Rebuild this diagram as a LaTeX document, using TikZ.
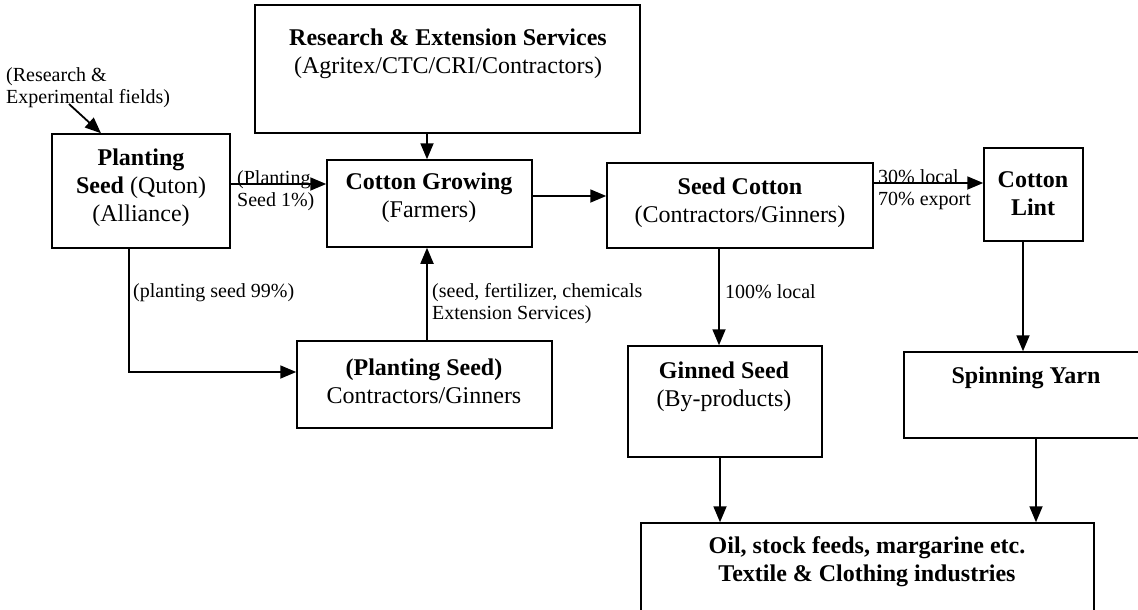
\documentclass[tikz,border=0pt]{standalone}
\usepackage{fontspec}
\setmainfont{Liberation Serif}
\usetikzlibrary{fit,arrows.meta}
\begin{document}
\begin{tikzpicture}[x=1pt,y=1pt,
 box/.style={draw, line width=1.5pt, inner sep=0pt},
 bigt/.style={font=\fontsize{24}{28}\selectfont, align=center, inner sep=0pt},
 smallt/.style={font=\fontsize{20}{22}\selectfont, align=left, inner sep=0pt, anchor=west},
 arr/.style={line width=1.8pt, -{Triangle[length=16pt,width=13pt]}},
 ln/.style={line width=1.8pt}]
\useasboundingbox (0,0) rectangle (1138,-610);
% boxes
\node[box, fit={(255,-5) (640,-133)}] (res) {};
\node[box, fit={(52,-134) (230,-248)}] (pl) {};
\node[box, fit={(327,-160) (532,-247)}] (cg) {};
\node[box, fit={(607,-163) (873,-248)}] (sc) {};
\node[box, fit={(984,-148) (1083,-241)}] (lint) {};
\node[box, fit={(297,-341) (552,-428)}] (ps) {};
\node[box, fit={(628,-346) (822,-457)}] (gs) {};
\node[box, fit={(904,-352) (1160,-438)}] (spin) {};
\node[box, fit={(641,-523) (1094,-630)}] (bot) {};
% box texts
\node[bigt] (resT) at (448,-54) {\textbf{Research \& Extension Services}\\(Agritex/CTC/CRI/Contractors)};
\node[bigt] (plT) at (141,-188) {\textbf{Planting}\\\textbf{Seed} (Quton)\\(Alliance)};
\node[bigt] (cgT) at (429,-198) {\textbf{Cotton Growing}\\(Farmers)};
\node[bigt] (scT) at (740,-203) {\textbf{Seed Cotton}\\(Contractors/Ginners)};
\node[bigt] (lintT) at (1033,-194) {\textbf{Cotton}\\\textbf{Lint}};
\node[bigt] (psT) at (424,-381) {\textbf{(Planting Seed)}\\Contractors/Ginners};
\node[bigt] (gsT) at (724,-387) {\textbf{Ginned Seed}\\(By-products)};
\node[bigt] (spinT) at (1026,-378) {\textbf{Spinning Yarn}};
\node[bigt] (botT) at (867,-562) {\textbf{Oil, stock feeds, margarine etc.}\\\textbf{Textile \& Clothing industries}};
% small labels
\node[smallt] (l1) at (237,-191) {(Planting\\Seed 1\%)};
\node[smallt] (l2) at (878,-190) {30\% local\\70\% export};
\node[smallt] (l3) at (6,-88) {(Research \&\\Experimental fields)};
\node[smallt] (l4) at (133,-293) {(planting seed 99\%)};
\node[smallt] (l5) at (432,-304) {(seed, fertilizer, chemicals\\Extension Services)};
\node[smallt] (l6) at (725,-292) {100\% local};
% connectors
\coordinate (fieldsEnd) at (69,-104);
\draw[arr] (fieldsEnd) -- (pl.north -| 101,0);
\draw[arr] (res.south -| 427,0) -- (cg.north -| 427,0);
\draw[arr] (pl.east |- 0,-184) -- (cg.west |- 0,-184);
\draw[arr] (cg.east |- 0,-196) -- (sc.west |- 0,-196);
\draw[arr] (sc.east |- 0,-183) -- (lint.west |- 0,-183);
\draw[arr] (pl.south -| 129,0) -- (129,-372) -- (ps.west |- 0,-372);
\draw[arr] (ps.north -| 427,0) -- (cg.south -| 427,0);
\draw[arr] (sc.south -| 719,0) -- (gs.north -| 719,0);
\draw[arr] (lint.south -| 1023,0) -- (spin.north -| 1023,0);
\draw[arr] (gs.south -| 720,0) -- (bot.north -| 720,0);
\draw[arr] (spin.south -| 1036,0) -- (bot.north -| 1036,0);
\end{tikzpicture}
\end{document}
